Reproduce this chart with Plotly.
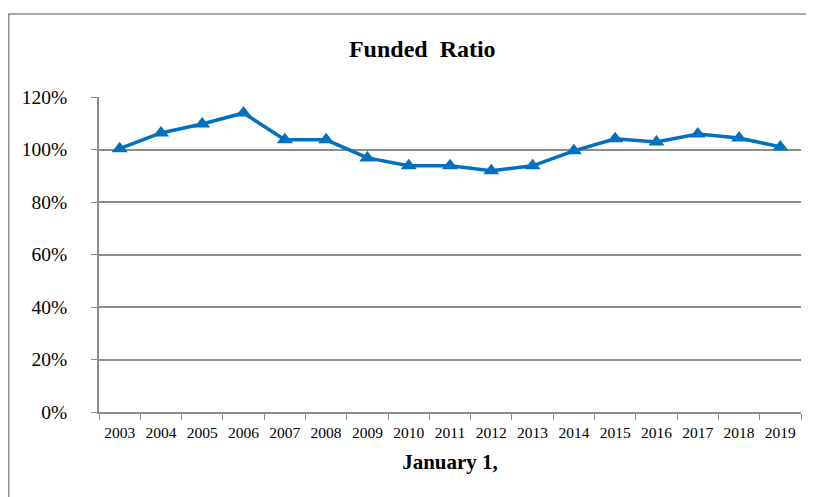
import plotly.graph_objects as go

years = [str(y) for y in range(2003, 2020)]
funded_ratio = [1.003, 1.063, 1.097, 1.139, 1.037, 1.037, 0.968, 0.938, 0.938,
                0.919, 0.938, 0.995, 1.041, 1.029, 1.059, 1.044, 1.010]
y_ticks = [0, 0.2, 0.4, 0.6, 0.8, 1.0, 1.2]

fig = go.Figure()
fig.add_trace(go.Scatter(
    x=years, y=funded_ratio, mode="lines+markers",
    line=dict(color="#0070C0", width=3.5),
    marker=dict(symbol="triangle-up", size=14, color="#0070C0"),
    showlegend=False, cliponaxis=False,
))

font_family = "Liberation Serif, Times New Roman, serif"
fig.update_layout(
    width=806, height=489,
    margin=dict(l=91, r=13, t=89, b=85, autoexpand=False),
    paper_bgcolor="white", plot_bgcolor="white",
    font=dict(family=font_family, color="black"),
    title=dict(text="<b>Funded  Ratio</b>", x=0.514, xanchor="center",
               y=0.917, yanchor="middle", font=dict(size=24, family=font_family)),
    xaxis=dict(
        type="category", range=[-0.5, 16.5], tickson="boundaries",
        ticks="outside", ticklen=6, tickangle=0, automargin=False,
        tickcolor="#8c8c8c", showline=True, linecolor="#8c8c8c", linewidth=1.5,
        showgrid=False, tickfont=dict(size=15.5), ticklabelstandoff=6,
        title=dict(text="<b>January 1,</b>", font=dict(size=21), standoff=14),
    ),
    yaxis=dict(
        range=[0, 1.2], tickvals=y_ticks, tickformat=".0%", automargin=False,
        ticks="outside", ticklen=6, tickcolor="#8c8c8c",
        showline=True, linecolor="#8c8c8c", linewidth=1.5,
        showgrid=True, gridcolor="#8c8c8c", gridwidth=1.5,
        tickfont=dict(size=19.5), ticklabelstandoff=20, zeroline=False,
    ),
    shapes=[dict(type="rect", xref="paper", yref="paper",
                 x0=-0.1286, x1=1.1, y0=-0.4, y1=1.2635,
                 line=dict(color="#8c8c8c", width=1.5), layer="below")],
)

fig.write_html("out.html")
